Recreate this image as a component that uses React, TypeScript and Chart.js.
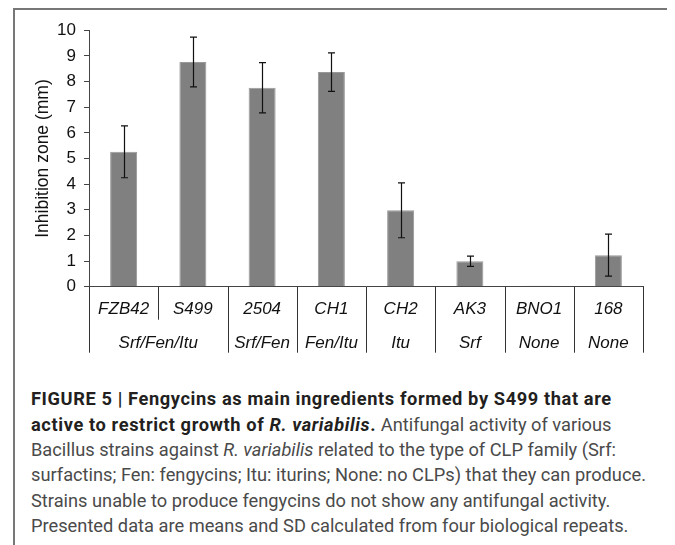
import React, { useEffect, useRef } from "react";
import { Chart, registerables } from "chart.js";

Chart.register(...registerables);

const strains = ["FZB42", "S499", "2504", "CH1", "CH2", "AK3", "BNO1", "168"];
const groupLabels = ["Srf/Fen/Itu", "Srf/Fen", "Fen/Itu", "Itu", "Srf", "None", "None"];
const groupSpans = [2, 1, 1, 1, 1, 1, 1];
const means = [5.26, 8.76, 7.76, 8.37, 2.98, 0.99, 0.04, 1.23];
const sds = [1.01, 0.97, 0.98, 0.75, 1.07, 0.2, 0, 0.82];
const yMin = 0;
const yMax = 10;
const yStep = 1;
const yTitle = "Inhibition zone (mm)";

const FONT = "'Liberation Sans', Arial, sans-serif";

const errorBarPlugin = {
  id: "errorBars",
  afterDatasetsDraw(chart: any) {
    const meta = chart.getDatasetMeta(0);
    const y = chart.scales.y;
    const ctx = chart.ctx;
    ctx.save();
    ctx.strokeStyle = "#111";
    ctx.lineWidth = 1.2;
    meta.data.forEach((el: any, i: number) => {
      const sd = sds[i];
      if (!sd) return;
      const x = Math.round(el.x) + 0.5;
      const top = y.getPixelForValue(means[i] + sd);
      const bot = y.getPixelForValue(means[i] - sd);
      ctx.beginPath();
      ctx.moveTo(x, top);
      ctx.lineTo(x, bot);
      ctx.moveTo(x - 3.5, top);
      ctx.lineTo(x + 3.5, top);
      ctx.moveTo(x - 3.5, bot);
      ctx.lineTo(x + 3.5, bot);
      ctx.stroke();
    });
    ctx.restore();
  },
};

const multiLevelPlugin = {
  id: "multiLevel",
  afterDraw(chart: any) {
    const xs = chart.scales.x;
    const ctx = chart.ctx;
    const axisY = chart.chartArea.bottom;
    const w = xs.getPixelForValue(1) - xs.getPixelForValue(0);
    const row1 = axisY + 23;
    const row2 = axisY + 57;
    const shortEnd = axisY + 33;
    const longEnd = axisY + 66;
    const groupEdges = new Set<number>();
    let acc = 0;
    groupEdges.add(0);
    groupSpans.forEach((s) => {
      acc += s;
      groupEdges.add(acc);
    });
    ctx.save();
    ctx.strokeStyle = "#333";
    ctx.lineWidth = 1;
    for (let i = 0; i <= strains.length; i++) {
      const bx = Math.round(xs.getPixelForValue(0) - w / 2 + i * w) + 0.5;
      ctx.beginPath();
      ctx.moveTo(bx, axisY);
      ctx.lineTo(bx, groupEdges.has(i) ? longEnd : shortEnd);
      ctx.stroke();
    }
    ctx.fillStyle = "#111";
    ctx.font = `italic 17px ${FONT}`;
    ctx.textAlign = "center";
    ctx.textBaseline = "middle";
    strains.forEach((s, i) => {
      ctx.fillText(s, xs.getPixelForValue(i), row1);
    });
    let start = 0;
    groupLabels.forEach((g, gi) => {
      const span = groupSpans[gi];
      const cx = xs.getPixelForValue(0) - w / 2 + (start + span / 2) * w;
      ctx.fillText(g, cx, row2);
      start += span;
    });
    ctx.restore();
  },
};

function ChartBox() {
  const ref = useRef<HTMLCanvasElement | null>(null);
  useEffect(() => {
    if (!ref.current) return;
    const chart = new Chart(ref.current, {
      type: "bar",
      data: {
        labels: strains,
        datasets: [
          {
            data: means,
            backgroundColor: "#808080",
            borderColor: "#999999",
            borderWidth: 1,
            categoryPercentage: 1,
            barPercentage: 0.39,
          },
        ],
      },
      options: {
        responsive: false,
        animation: false,
        devicePixelRatio: 1,
        layout: { padding: { top: 21.3, right: 26, left: 0, bottom: 0 } },
        plugins: { legend: { display: false }, tooltip: { enabled: false } },
        scales: {
          x: {
            type: "category",
            offset: true,
            grid: { display: false },
            border: { display: true, color: "#444", width: 1 },
            ticks: { display: false },
            afterFit: (s: any) => {
              s.height = 88.3;
            },
          },
          y: {
            min: yMin,
            max: yMax,
            ticks: {
              stepSize: yStep,
              color: "#111",
              padding: 8,
              font: { family: FONT, size: 17 },
            },
            grid: { drawOnChartArea: false, drawTicks: true, tickLength: 5, color: "#444" },
            border: { display: true, color: "#444", width: 1 },
            title: {
              display: true,
              text: yTitle,
              color: "#111",
              font: { family: FONT, size: 17.5 },
              padding: { top: 18.5, bottom: 0 },
            },
            afterFit: (s: any) => {
              s.width = 75;
            },
          },
        },
      },
      plugins: [errorBarPlugin, multiLevelPlugin],
    } as any);
    return () => chart.destroy();
  }, []);
  return <canvas ref={ref} width={655} height={366} style={{ width: 655, height: 366, display: "block" }} />;
}

const capStyle: React.CSSProperties = {
  whiteSpace: "nowrap",
  height: 25.4,
  lineHeight: "25.4px",
};

const boldStyle: React.CSSProperties = {
  fontWeight: "bold",
  color: "#231f20",
  letterSpacing: "0.6px",
};

export default function App() {
  return (
    <div style={{ position: "relative", width: 667, height: 537, overflow: "hidden" }}>
      <div
        style={{
          position: "absolute",
          left: 5,
          top: 0,
          width: 654,
          height: 600,
          border: "2px solid #777",
          boxSizing: "content-box",
        }}
      />
      <div style={{ position: "absolute", left: 6, top: 1 }}>
        <ChartBox />
      </div>
      <div
        style={{
          position: "absolute",
          left: 23,
          top: 378.3,
          fontFamily: "Roboto, 'Liberation Sans', sans-serif",
          fontSize: 18.25,
          color: "#4a4a4a",
        }}
      >
        <div style={{ ...capStyle, ...boldStyle }}>
          FIGURE 5 | Fengycins as main ingredients formed by S499 that are
        </div>
        <div style={capStyle}>
          <span style={boldStyle}>
            active to restrict growth of <i>R. variabilis</i>.
          </span>{" "}
          Antifungal activity of various
        </div>
        <div style={capStyle}>
          Bacillus strains against <i>R. variabilis</i> related to the type of CLP family (Srf:
        </div>
        <div style={capStyle}>surfactins; Fen: fengycins; Itu: iturins; None: no CLPs) that they can produce.</div>
        <div style={capStyle}>Strains unable to produce fengycins do not show any antifungal activity.</div>
        <div style={capStyle}>Presented data are means and SD calculated from four biological repeats.</div>
      </div>
    </div>
  );
}
